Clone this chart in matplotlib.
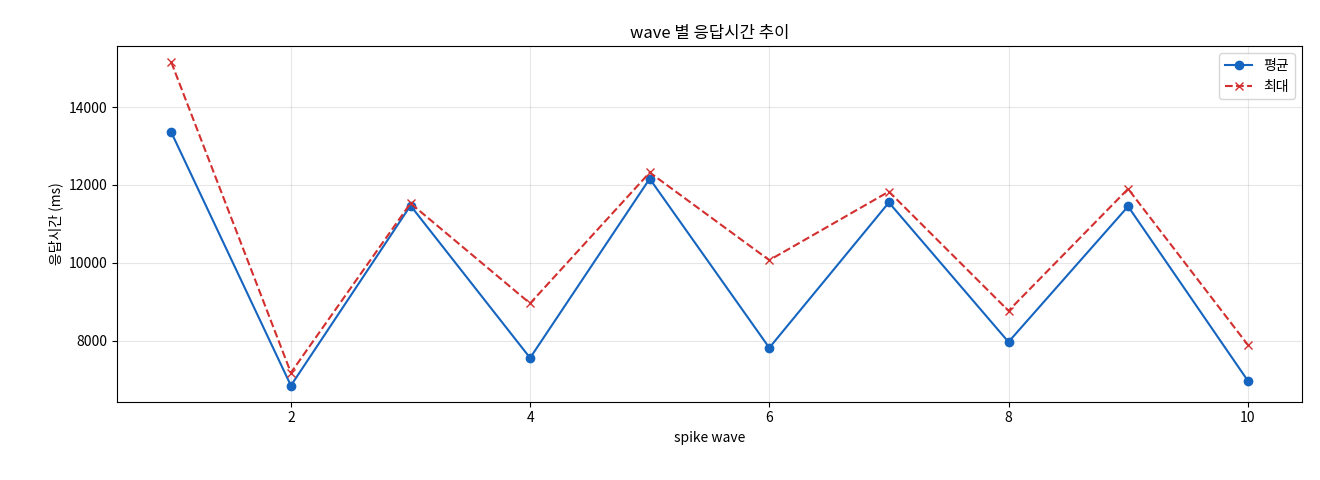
import matplotlib
matplotlib.use('Agg')
import matplotlib.pyplot as plt

plt.rcParams['font.family'] = ['Noto Sans CJK KR', 'DejaVu Sans']

waves = [1, 2, 3, 4, 5, 6, 7, 8, 9, 10]
mean_ms = [13350, 6850, 11470, 7560, 12160, 7820, 11550, 7970, 11450, 6980]
max_ms = [15150, 7180, 11530, 8960, 12320, 10070, 11830, 8770, 11900, 7900]

fig, ax = plt.subplots(figsize=(13.2, 4.8), dpi=100)
ax.plot(waves, mean_ms, color='#1565c0', marker='o', markersize=6, linewidth=1.5, label='평균')
ax.plot(waves, max_ms, color='#d32f2f', marker='x', markersize=6, linewidth=1.5,
        linestyle='--', label='최대')
ax.set_title('wave 별 응답시간 추이')
ax.set_xlabel('spike wave')
ax.set_ylabel('응답시간 (ms)')
ax.grid(True, alpha=0.3)
ax.legend(loc='upper right')
fig.subplots_adjust(left=0.089, right=0.986, top=0.904, bottom=0.163)
fig.savefig('out.png', dpi=100)
